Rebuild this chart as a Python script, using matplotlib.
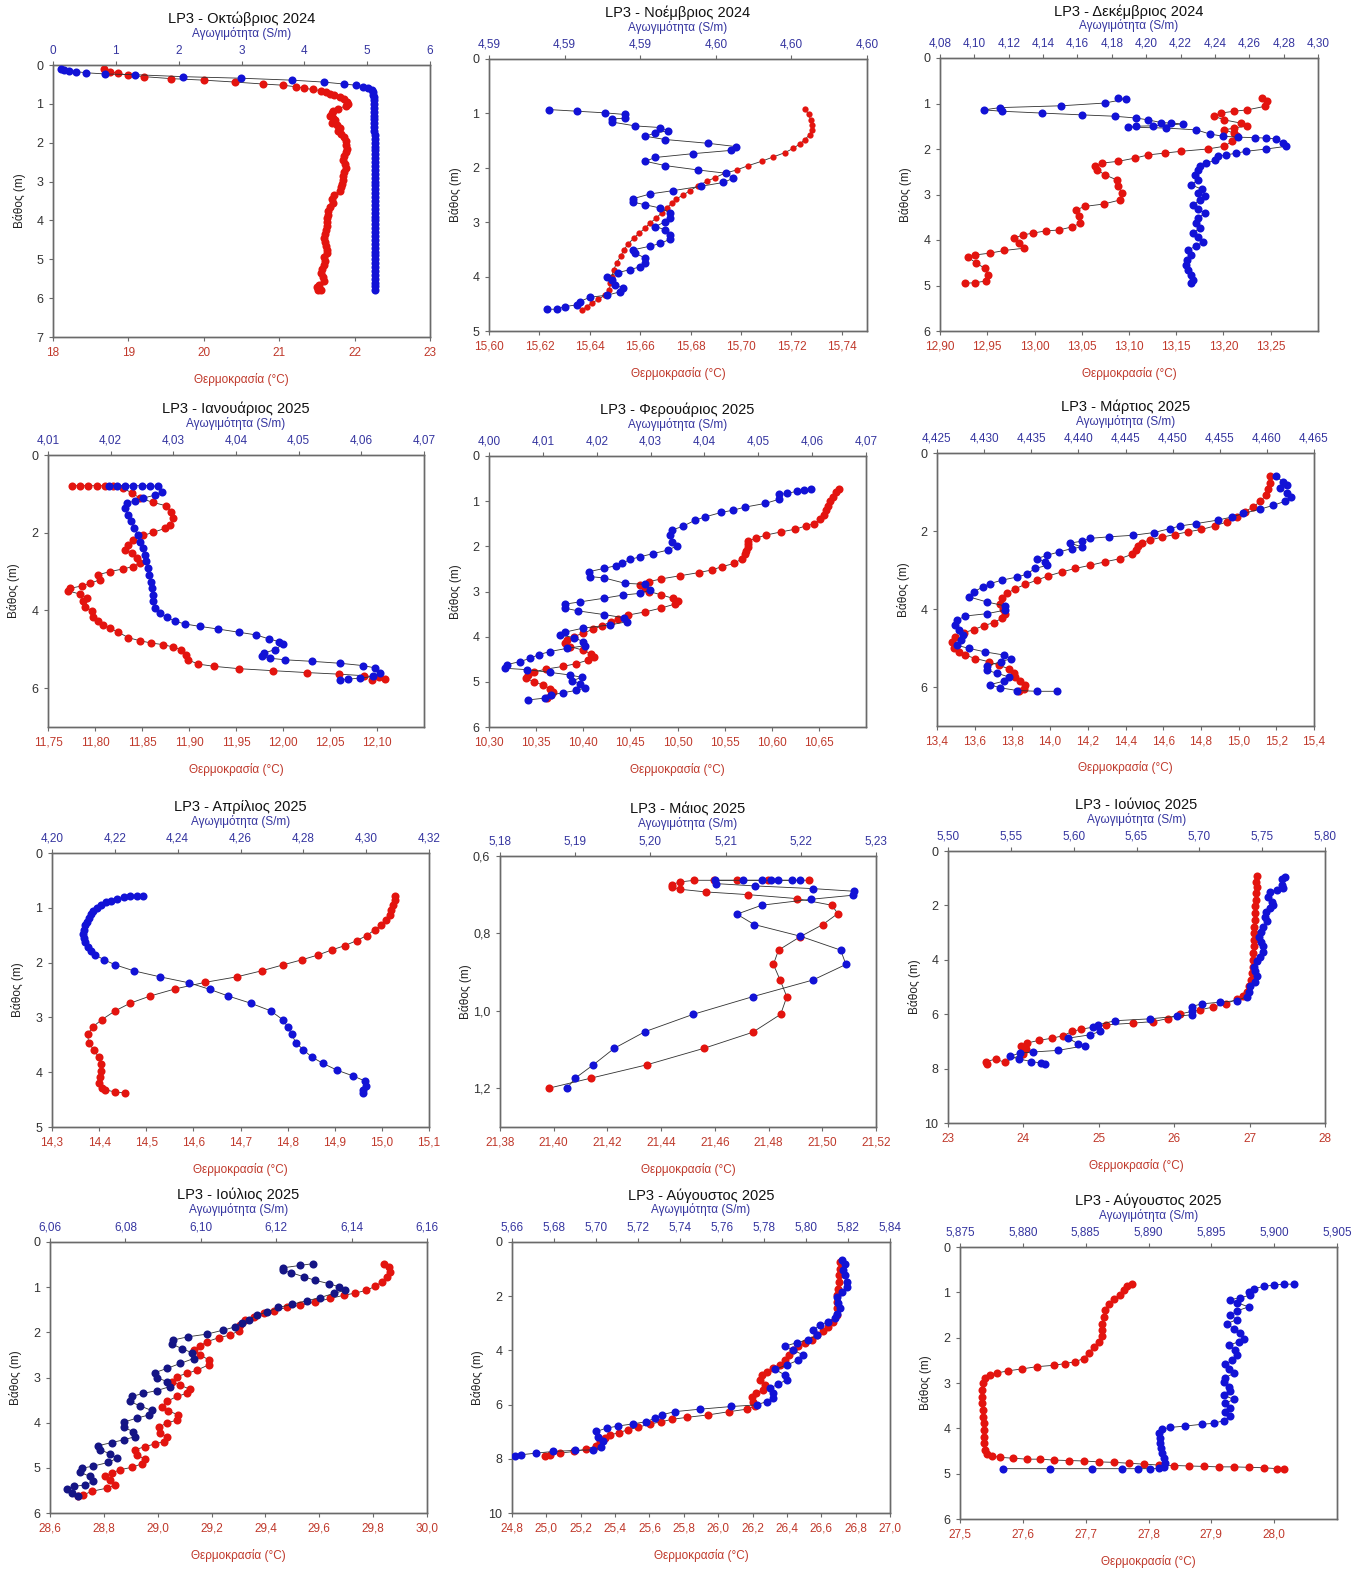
import matplotlib
matplotlib.use("Agg")
import matplotlib.pyplot as plt
import numpy as np

# (depth m, temperature C) and (depth m, conductivity S/m)
oct_temp = [(0.10,18.67),(0.17,18.76),(0.21,18.86),(0.26,18.99),(0.30,19.21),(0.35,19.56),(0.39,20.00),(0.44,20.42),
            (0.49,20.79),(0.52,21.05),(0.56,21.22),(0.60,21.33),(0.63,21.45),(0.66,21.55),(0.70,21.62),(0.74,21.68),
            (0.78,21.73),(0.83,21.80),(0.88,21.86),(0.94,21.90),(1.00,21.91),(1.06,21.88),(1.12,21.78),(1.18,21.72),
            (1.24,21.70),(1.30,21.68),(1.36,21.72),(1.42,21.74),(1.48,21.70),(1.55,21.76),(1.62,21.80),(1.70,21.78),
            (1.78,21.82),(1.86,21.86),(1.95,21.88),(2.05,21.89),(2.15,21.90),(2.25,21.88),(2.35,21.86),(2.45,21.85),
            (2.55,21.87),(2.65,21.88),(2.75,21.86),(2.85,21.85),(2.95,21.84),(3.05,21.83),(3.15,21.82),(3.25,21.80),
            (3.35,21.73),(3.45,21.70),(3.55,21.72),(3.65,21.67),(3.75,21.65),(3.85,21.65),(3.95,21.64),(4.05,21.63),
            (4.15,21.63),(4.25,21.62),(4.35,21.61),(4.45,21.60),(4.55,21.61),(4.65,21.62),(4.75,21.63),(4.85,21.63),
            (4.95,21.60),(5.05,21.61),(5.15,21.60),(5.25,21.57),(5.35,21.56),(5.45,21.58),(5.55,21.59),(5.65,21.53),
            (5.72,21.50),(5.78,21.52),(5.80,21.55)]
oct_cond = [(0.11,0.12),(0.13,0.17),(0.15,0.25),(0.17,0.36),(0.20,0.53),(0.23,0.82),(0.25,1.31),(0.30,2.07),
            (0.34,2.99),(0.39,3.80),(0.44,4.31),(0.49,4.63),(0.52,4.82),(0.56,4.94),(0.60,5.02),(0.65,5.07),
            (0.70,5.09),(0.76,5.10),(0.82,5.11),(0.90,5.11),(1.00,5.11),(1.10,5.11),(1.20,5.11),(1.30,5.11),
            (1.40,5.11),(1.50,5.11),(1.60,5.11),(1.70,5.11),(1.80,5.12),(1.90,5.12),(2.00,5.12),(2.10,5.12),
            (2.20,5.12),(2.30,5.12),(2.40,5.12),(2.50,5.12),(2.60,5.12),(2.70,5.12),(2.80,5.12),(2.90,5.12),
            (3.00,5.12),(3.10,5.12),(3.20,5.12),(3.30,5.12),(3.40,5.12),(3.50,5.12),(3.60,5.12),(3.70,5.12),
            (3.80,5.12),(3.90,5.12),(4.00,5.12),(4.10,5.12),(4.20,5.12),(4.30,5.12),(4.40,5.12),(4.50,5.12),
            (4.60,5.12),(4.70,5.12),(4.80,5.12),(4.90,5.12),(5.00,5.12),(5.10,5.12),(5.20,5.12),(5.30,5.12),
            (5.40,5.12),(5.50,5.12),(5.60,5.12),(5.70,5.12),(5.80,5.12)]

nov_temp = [(0.92,15.7254),(1.02,15.7268),(1.12,15.7277),(1.21,15.7281),(1.30,15.7281),(1.39,15.7272),(1.48,15.7254),
            (1.56,15.7234),(1.64,15.7208),(1.72,15.7175),(1.80,15.7128),(1.88,15.7082),(1.96,15.7029),(2.04,15.6983),
            (2.10,15.6936),(2.18,15.6897),(2.25,15.6864),(2.33,15.6830),(2.42,15.6797),(2.50,15.6771),(2.57,15.6744),
            (2.65,15.6725),(2.74,15.6705),(2.83,15.6685),(2.93,15.6662),(3.02,15.6638),(3.11,15.6619),(3.20,15.6596),
            (3.29,15.6575),(3.40,15.6552),(3.51,15.6535),(3.63,15.6522),(3.75,15.6506),(3.88,15.6495),(4.00,15.6487),
            (4.12,15.6482),(4.25,15.6477),(4.34,15.6460),(4.42,15.6433),(4.49,15.6407),(4.55,15.6387),(4.61,15.6371)]
nov_cond = [(0.93,4.5904),(0.96,4.5915),(0.99,4.5926),(1.02,4.5934),(1.09,4.5934),(1.10,4.5929),(1.16,4.5929),
            (1.23,4.5938),(1.26,4.5948),(1.32,4.5951),(1.36,4.5946),(1.42,4.5942),(1.48,4.5950),(1.55,4.5967),
            (1.61,4.5978),(1.68,4.5976),(1.74,4.5961),(1.81,4.5946),(1.88,4.5942),(1.96,4.5950),(2.04,4.5963),
            (2.10,4.5974),(2.19,4.5977),(2.27,4.5973),(2.34,4.5964),(2.42,4.5953),(2.48,4.5944),(2.57,4.5937),
            (2.63,4.5937),(2.68,4.5942),(2.74,4.5948),(2.83,4.5952),(2.93,4.5952),(2.99,4.5950),(3.08,4.5946),
            (3.14,4.5950),(3.23,4.5952),(3.31,4.5952),(3.39,4.5948),(3.44,4.5944),(3.51,4.5937),(3.57,4.5938),
            (3.66,4.5942),(3.75,4.5942),(3.82,4.5940),(3.87,4.5936),(3.93,4.5931),(4.00,4.5927),(4.06,4.5929),
            (4.15,4.5930),(4.21,4.5933),(4.28,4.5932),(4.34,4.5927),(4.38,4.5920),(4.46,4.5916),(4.52,4.5915),
            (4.55,4.5910),(4.60,4.5907),(4.60,4.5903)]

dec_temp = [(0.87,13.2409),(0.95,13.2462),(1.06,13.2444),(1.14,13.2252),(1.17,13.2112),(1.21,13.1972),(1.28,13.1902),
            (1.36,13.2007),(1.43,13.2182),(1.49,13.2252),(1.54,13.2112),(1.58,13.2007),(1.65,13.2112),(1.72,13.2147),
            (1.83,13.2094),(1.94,13.2007),(2.00,13.1832),(2.05,13.1552),(2.09,13.1378),(2.13,13.1203),(2.20,13.1063),
            (2.27,13.0888),(2.31,13.0713),(2.38,13.0643),(2.46,13.0661),(2.57,13.0748),(2.68,13.0871),(2.82,13.0888),
            (2.97,13.0923),(3.12,13.0906),(3.21,13.0731),(3.26,13.0538),(3.34,13.0434),(3.48,13.0469),(3.63,13.0486),
            (3.71,13.0399),(3.78,13.0259),(3.80,13.0119),(3.85,12.9979),(3.89,12.9874),(3.96,12.9787),(4.07,12.9839),
            (4.18,12.9892),(4.23,12.9682),(4.29,12.9524),(4.33,12.9367),(4.38,12.9297),(4.51,12.9385),(4.62,12.9472),
            (4.77,12.9507),(4.90,12.9490),(4.94,12.9367),(4.95,12.9262)]
dec_cond = [(0.87,4.1837),(0.90,4.1885),(0.99,4.1759),(1.05,4.1507),(1.09,4.1149),(1.14,4.1056),(1.17,4.1159),
            (1.21,4.1391),(1.25,4.1624),(1.28,4.1817),(1.32,4.1943),(1.36,4.2011),(1.42,4.2089),(1.43,4.2147),
            (1.45,4.2215),(1.49,4.2040),(1.50,4.1943),(1.52,4.1895),(1.54,4.2118),(1.58,4.2292),(1.67,4.2370),
            (1.72,4.2447),(1.74,4.2535),(1.75,4.2632),(1.76,4.2700),(1.78,4.2758),(1.87,4.2796),(1.94,4.2816),
            (2.00,4.2700),(2.05,4.2583),(2.09,4.2525),(2.13,4.2467),(2.16,4.2418),(2.25,4.2399),(2.31,4.2350),
            (2.38,4.2312),(2.46,4.2302),(2.57,4.2283),(2.68,4.2302),(2.79,4.2263),(2.88,4.2322),(2.97,4.2302),
            (3.04,4.2341),(3.12,4.2312),(3.23,4.2273),(3.32,4.2302),(3.41,4.2341),(3.52,4.2302),(3.63,4.2292),
            (3.74,4.2312),(3.84,4.2273),(3.93,4.2302),(4.04,4.2331),(4.13,4.2292),(4.22,4.2244),(4.33,4.2263),
            (4.44,4.2235),(4.55,4.2231),(4.66,4.2241),(4.77,4.2263),(4.88,4.2273),(4.95,4.2263)]

jan_temp = [(0.79,11.7754),(0.79,11.7842),(0.79,11.7930),(0.79,11.8019),(0.79,11.8107),(0.81,11.8195),(0.86,11.8301),
            (0.97,11.8389),(1.11,11.8477),(1.22,11.8619),(1.31,11.8760),(1.46,11.8813),(1.63,11.8830),(1.80,11.8795),
            (1.89,11.8742),(1.99,11.8619),(2.07,11.8513),(2.19,11.8407),(2.31,11.8354),(2.44,11.8319),(2.53,11.8389),
            (2.66,11.8442),(2.78,11.8477),(2.87,11.8407),(2.93,11.8301),(3.00,11.8160),(3.08,11.8036),(3.21,11.8054),
            (3.30,11.7948),(3.37,11.7860),(3.43,11.7736),(3.50,11.7718),(3.58,11.7842),(3.67,11.7913),(3.77,11.7877),
            (3.90,11.7895),(4.01,11.7966),(4.16,11.7983),(4.28,11.8036),(4.37,11.8089),(4.46,11.8160),(4.56,11.8248),
            (4.70,11.8354),(4.78,11.8477),(4.84,11.8601),(4.88,11.8724),(4.94,11.8830),(5.01,11.8918),(5.14,11.8971),
            (5.27,11.8989),(5.38,11.9095),(5.44,11.9271),(5.50,11.9536),(5.55,11.9889),(5.60,12.0259),(5.64,12.0595),
            (5.68,12.0859),(5.72,12.1018),(5.76,12.1089),(5.78,12.0948)]
jan_cond = [(0.79,4.0197),(0.79,4.0210),(0.79,4.0223),(0.79,4.0236),(0.79,4.0250),(0.79,4.0263),(0.81,4.0276),
            (0.94,4.0282),(1.03,4.0271),(1.11,4.0252),(1.18,4.0239),(1.24,4.0226),(1.37,4.0223),(1.54,4.0227),
            (1.71,4.0232),(1.89,4.0238),(2.06,4.0243),(2.23,4.0247),(2.40,4.0251),(2.57,4.0254),(2.74,4.0257),
            (2.91,4.0259),(3.08,4.0261),(3.26,4.0264),(3.43,4.0266),(3.60,4.0267),(3.77,4.0268),(3.94,4.0271),
            (4.07,4.0278),(4.18,4.0290),(4.28,4.0303),(4.35,4.0319),(4.41,4.0342),(4.48,4.0372),(4.56,4.0404),
            (4.63,4.0432),(4.73,4.0452),(4.80,4.0468),(4.87,4.0475),(5.01,4.0462),(5.10,4.0444),(5.18,4.0441),
            (5.23,4.0454),(5.27,4.0478),(5.31,4.0521),(5.36,4.0566),(5.42,4.0603),(5.48,4.0622),(5.61,4.0629),
            (5.70,4.0619),(5.74,4.0598),(5.77,4.0579),(5.78,4.0566)]

feb_temp = [(0.74,10.671),(0.80,10.668),(0.90,10.665),(1.00,10.662),(1.10,10.660),(1.20,10.658),(1.30,10.655),
            (1.40,10.651),(1.50,10.645),(1.55,10.636),(1.62,10.625),(1.68,10.610),(1.75,10.594),(1.82,10.583),
            (1.88,10.575),(1.95,10.5745),(2.02,10.575),(2.10,10.573),(2.18,10.572),(2.28,10.568),(2.38,10.560),
            (2.45,10.547),(2.52,10.537),(2.58,10.523),(2.65,10.503),(2.72,10.483),(2.78,10.470),(2.85,10.460),
            (2.93,10.465),(3.00,10.470),(3.07,10.482),(3.15,10.495),(3.22,10.500),(3.28,10.497),(3.37,10.482),
            (3.45,10.466),(3.52,10.448),(3.60,10.437),(3.67,10.429),(3.76,10.420),(3.84,10.410),(3.92,10.400),
            (4.00,10.390),(4.08,10.383),(4.15,10.381),(4.22,10.386),(4.30,10.400),(4.38,10.408),(4.45,10.411),
            (4.52,10.405),(4.60,10.392),(4.66,10.378),(4.72,10.360),(4.78,10.348),(4.84,10.341),(4.92,10.339),
            (5.00,10.348),(5.07,10.357),(5.15,10.365),(5.22,10.368),(5.30,10.366),(5.36,10.362)]
feb_cond = [(0.74,4.0597),(0.76,4.0584),(0.78,4.0572),(0.83,4.0553),(0.85,4.0538),(0.96,4.0538),(1.05,4.0513),
            (1.13,4.0476),(1.20,4.0453),(1.25,4.0431),(1.35,4.0401),(1.42,4.0383),(1.55,4.0361),(1.64,4.0340),
            (1.75,4.0336),(1.90,4.0340),(1.99,4.0349),(2.08,4.0333),(2.16,4.0305),(2.23,4.0281),(2.29,4.0262),
            (2.38,4.0247),(2.43,4.0235),(2.49,4.0213),(2.56,4.0186),(2.67,4.0188),(2.70,4.0214),(2.82,4.0253),
            (2.84,4.0290),(2.97,4.0299),(3.04,4.0281),(3.08,4.0248),(3.15,4.0213),(3.23,4.0169),(3.28,4.0141),
            (3.37,4.0141),(3.43,4.0166),(3.51,4.0213),(3.58,4.0250),(3.67,4.0256),(3.74,4.0225),(3.81,4.0175),
            (3.90,4.0141),(3.96,4.0132),(4.02,4.0157),(4.11,4.0175),(4.20,4.0178),(4.26,4.0144),(4.33,4.0113),
            (4.40,4.0092),(4.48,4.0076),(4.55,4.0058),(4.62,4.0033),(4.70,4.0030),(4.73,4.0070),(4.79,4.0113),
            (4.85,4.0151),(4.90,4.0172),(4.98,4.0154),(5.05,4.0169),(5.14,4.0178),(5.19,4.0162),(5.24,4.0138),
            (5.29,4.0116),(5.36,4.0104),(5.40,4.0073)]

mar_temp = [(0.60,15.165),(0.76,15.165),(0.93,15.158),(1.08,15.144),(1.24,15.116),(1.38,15.077),(1.51,15.033),
            (1.64,14.989),(1.77,14.936),(1.87,14.874),(1.96,14.803),(2.02,14.733),(2.09,14.662),(2.16,14.592),
            (2.23,14.530),(2.30,14.486),(2.38,14.468),(2.49,14.456),(2.60,14.433),(2.71,14.371),(2.79,14.291),
            (2.88,14.212),(2.96,14.133),(3.05,14.062),(3.15,13.991),(3.26,13.930),(3.37,13.868),(3.48,13.815),
            (3.60,13.771),(3.73,13.744),(3.86,13.735),(3.99,13.749),(4.12,13.762),(4.24,13.744),(4.35,13.700),
            (4.43,13.647),(4.53,13.594),(4.61,13.541),(4.71,13.497),(4.84,13.479),(4.99,13.488),(5.10,13.515),
            (5.18,13.550),(5.27,13.603),(5.35,13.674),(5.44,13.727),(5.53,13.780),(5.63,13.806),(5.74,13.815),
            (5.85,13.842),(5.95,13.868),(6.05,13.859),(6.11,13.833)]
mar_cond = [(0.60,4.4610),(0.74,4.4617),(0.83,4.4621),(0.91,4.4614),(1.02,4.4621),(1.13,4.4626),(1.24,4.4619),
            (1.34,4.4607),(1.44,4.4593),(1.55,4.4575),(1.64,4.4563),(1.72,4.4548),(1.81,4.4525),(1.87,4.4508),
            (1.94,4.4497),(2.04,4.4480),(2.11,4.4458),(2.15,4.4432),(2.19,4.4412),(2.26,4.4404),(2.31,4.4391),
            (2.41,4.4404),(2.45,4.4393),(2.54,4.4379),(2.62,4.4367),(2.71,4.4356),(2.79,4.4365),(2.88,4.4367),
            (2.96,4.4354),(3.11,4.4345),(3.18,4.4335),(3.26,4.4319),(3.35,4.4306),(3.43,4.4299),(3.56,4.4289),
            (3.69,4.4284),(3.82,4.4303),(3.92,4.4322),(4.03,4.4322),(4.12,4.4303),(4.18,4.4280),(4.29,4.4271),
            (4.42,4.4269),(4.54,4.4273),(4.67,4.4278),(4.80,4.4275),(4.93,4.4271),(5.01,4.4284),(5.10,4.4301),
            (5.18,4.4321),(5.27,4.4329),(5.35,4.4318),(5.46,4.4303),(5.57,4.4303),(5.65,4.4314),(5.74,4.4326),
            (5.85,4.4321),(5.94,4.4306),(6.02,4.4317),(6.09,4.4335),(6.11,4.4356),(6.11,4.4377)]

apr_temp = [(0.78,15.0274),(0.85,15.0274),(0.95,15.0239),(1.04,15.0203),(1.13,15.0168),(1.22,15.0097),(1.31,14.9992),
            (1.40,14.9850),(1.51,14.9674),(1.60,14.9462),(1.69,14.9215),(1.77,14.8932),(1.86,14.8650),(1.95,14.8297),
            (2.04,14.7908),(2.15,14.7449),(2.26,14.6920),(2.36,14.6249),(2.48,14.5613),(2.61,14.5083),(2.74,14.4660),
            (2.88,14.4342),(3.04,14.4059),(3.17,14.3869),(3.31,14.3756),(3.46,14.3777),(3.59,14.3883),(3.72,14.3989),
            (3.85,14.4045),(3.98,14.4045),(4.09,14.4010),(4.20,14.3989),(4.29,14.4059),(4.32,14.4130),(4.36,14.4328),
            (4.38,14.4554)]
apr_cond = [(0.78,4.2289),(0.78,4.2270),(0.79,4.2249),(0.81,4.2228),(0.84,4.2207),(0.87,4.2188),(0.90,4.2171),
            (0.95,4.2156),(1.00,4.2143),(1.05,4.2132),(1.11,4.2124),(1.18,4.2117),(1.25,4.2111),(1.32,4.2106),
            (1.40,4.2102),(1.48,4.2099),(1.55,4.2101),(1.63,4.2106),(1.71,4.2113),(1.78,4.2124),(1.86,4.2138),
            (1.95,4.2166),(2.04,4.2201),(2.15,4.2260),(2.26,4.2344),(2.37,4.2437),(2.49,4.2503),(2.61,4.2561),
            (2.74,4.2632),(2.88,4.2696),(3.04,4.2734),(3.17,4.2750),(3.31,4.2763),(3.46,4.2776),(3.59,4.2800),
            (3.72,4.2826),(3.84,4.2863),(3.96,4.2906),(4.07,4.2959),(4.16,4.2996),(4.26,4.3001),(4.33,4.2991),
            (4.38,4.2989)]

may_temp = [(0.6627,21.4952),(0.6627,21.4799),(0.6627,21.4681),(0.6627,21.4595),(0.6627,21.4524),(0.6670,21.4470),
            (0.6739,21.4439),(0.6799,21.4439),(0.6859,21.4470),(0.6928,21.4566),(0.6997,21.4722),(0.7100,21.4905),
            (0.7271,21.5035),(0.7486,21.5058),(0.7770,21.5002),(0.8088,21.4917),(0.8431,21.4837),(0.8801,21.4818),
            (0.9204,21.4843),(0.9634,21.4868),(1.0089,21.4845),(1.0553,21.4741),(1.0966,21.4560),(1.1395,21.4346),
            (1.1739,21.4138),(1.1997,21.3982)]
may_cond = [(0.6627,5.2199),(0.6627,5.2188),(0.6627,5.2170),(0.6627,5.2161),(0.6627,5.2148),(0.6627,5.2123),
            (0.6627,5.2086),(0.6713,5.2087),(0.6773,5.2139),(0.6842,5.2216),(0.6911,5.2271),(0.7014,5.2269),
            (0.7117,5.2214),(0.7271,5.2148),(0.7503,5.2115),(0.7770,5.2138),(0.8070,5.2199),(0.8431,5.2253),
            (0.8801,5.2260),(0.9204,5.2216),(0.9634,5.2136),(1.0089,5.2057),(1.0536,5.1993),(1.0966,5.1952),
            (1.1395,5.1924),(1.1739,5.1900),(1.1997,5.1889)]

jun_temp = [(0.92,27.093),(1.13,27.084),(1.31,27.093),(1.55,27.084),(1.80,27.080),(2.04,27.075),(2.29,27.071),
            (2.53,27.066),(2.78,27.062),(3.03,27.058),(3.27,27.058),(3.51,27.053),(3.76,27.049),(4.00,27.044),
            (4.25,27.040),(4.49,27.031),(4.74,27.018),(4.98,26.996),(5.17,26.960),(5.32,26.907),(5.45,26.827),
            (5.62,26.686),(5.74,26.509),(5.84,26.341),(5.99,26.075),(6.16,25.920),(6.27,25.721),(6.33,25.447),
            (6.39,25.102),(6.55,24.770),(6.63,24.650),(6.79,24.527),(6.88,24.385),(6.96,24.208),(7.06,24.049),
            (7.16,23.973),(7.28,24.031),(7.45,23.996),(7.77,23.752),(7.65,23.633),(7.74,23.509),(7.82,23.518)]
jun_cond = [(0.94,5.7682),(1.04,5.7655),(1.25,5.7655),(1.37,5.7669),(1.43,5.7615),(1.49,5.7562),(1.68,5.7549),
            (1.86,5.7576),(1.98,5.7584),(2.11,5.7562),(2.23,5.7530),(2.41,5.7522),(2.59,5.7536),(2.78,5.7509),
            (2.96,5.7488),(3.15,5.7477),(3.33,5.7490),(3.51,5.7504),(3.70,5.7504),(3.88,5.7483),(4.06,5.7456),
            (4.25,5.7435),(4.43,5.7443),(4.61,5.7461),(4.80,5.7443),(4.98,5.7403),(5.17,5.7398),(5.35,5.7382),
            (5.50,5.7297),(5.56,5.7164),(5.62,5.7018),(5.72,5.6938),(5.88,5.6938),(6.02,5.6938),(6.08,5.6819),
            (6.17,5.6606),(6.24,5.6328),(6.39,5.6195),(6.48,5.6155),(6.63,5.6213),(6.76,5.6128),(6.88,5.5956),
            (7.09,5.6036),(7.16,5.6089),(7.33,5.5876),(7.39,5.5677),(7.43,5.5571),(7.55,5.5491),(7.65,5.5566),
            (7.74,5.5664),(7.80,5.5744),(7.82,5.5770)]

jul_temp = [(0.48,29.839),(0.55,29.858),(0.66,29.862),(0.77,29.852),(0.88,29.833),(0.98,29.808),(1.07,29.775),
            (1.13,29.734),(1.18,29.690),(1.25,29.641),(1.33,29.585),(1.40,29.529),(1.45,29.480),(1.52,29.430),
            (1.58,29.393),(1.66,29.356),(1.73,29.325),(1.84,29.306),(1.97,29.300),(2.06,29.269),(2.12,29.226),
            (2.21,29.182),(2.30,29.158),(2.39,29.133),(2.50,29.158),(2.61,29.189),(2.72,29.189),(2.84,29.145),
            (2.91,29.108),(2.98,29.071),(3.09,29.052),(3.17,29.083),(3.26,29.120),(3.35,29.108),(3.42,29.071),
            (3.53,29.034),(3.65,29.015),(3.74,29.040),(3.83,29.077),(3.94,29.071),(4.01,29.034),(4.10,29.003),
            (4.22,29.009),(4.32,29.034),(4.42,29.022),(4.47,28.990),(4.53,28.953),(4.60,28.916),(4.71,28.922),
            (4.81,28.953),(4.91,28.941),(4.99,28.904),(5.04,28.860),(5.12,28.829),(5.18,28.804),(5.27,28.823),
            (5.38,28.842),(5.45,28.811),(5.52,28.755),(5.60,28.724),(5.63,28.705)]
jul_cond = [(0.48,6.1297),(0.52,6.1262),(0.57,6.1219),(0.63,6.1217),(0.68,6.1240),(0.77,6.1273),(0.85,6.1304),
            (0.92,6.1339),(0.99,6.1366),(1.07,6.1383),(1.14,6.1352),(1.23,6.1317),(1.30,6.1281),(1.38,6.1242),
            (1.45,6.1206),(1.55,6.1175),(1.62,6.1149),(1.72,6.1127),(1.79,6.1109),(1.88,6.1091),(1.95,6.1060),
            (2.04,6.1016),(2.10,6.0965),(2.17,6.0927),(2.26,6.0923),(2.36,6.0950),(2.45,6.0976),(2.58,6.0981),
            (2.69,6.0945),(2.80,6.0910),(2.89,6.0879),(3.00,6.0883),(3.09,6.0910),(3.20,6.0919),(3.29,6.0883),
            (3.35,6.0848),(3.42,6.0817),(3.53,6.0812),(3.63,6.0839),(3.73,6.0870),(3.83,6.0862),(3.90,6.0830),
            (3.99,6.0795),(4.10,6.0795),(4.20,6.0821),(4.31,6.0826),(4.38,6.0795),(4.44,6.0764),(4.51,6.0728),
            (4.60,6.0733),(4.69,6.0759),(4.79,6.0777),(4.88,6.0755),(4.96,6.0715),(5.01,6.0684),(5.10,6.0680),
            (5.19,6.0706),(5.30,6.0715),(5.38,6.0693),(5.41,6.0664),(5.47,6.0644),(5.56,6.0658),(5.62,6.0675)]

aug_temp = [(0.74,26.709),(0.98,26.709),(1.23,26.705),(1.47,26.705),(1.72,26.699),(1.96,26.689),(2.21,26.689),
            (2.45,26.693),(2.70,26.689),(2.94,26.670),(3.13,26.641),(3.28,26.608),(3.44,26.573),(3.62,26.544),
            (3.74,26.505),(3.84,26.466),(3.99,26.437),(4.17,26.414),(4.36,26.388),(4.54,26.359),(4.66,26.320),
            (4.79,26.282),(4.91,26.253),(5.09,26.243),(5.28,26.272),(5.46,26.262),(5.58,26.223),(5.71,26.194),
            (5.89,26.204),(6.05,26.214),(6.17,26.165),(6.26,26.064),(6.38,25.942),(6.47,25.819),(6.54,25.734),
            (6.63,25.670),(6.72,25.602),(6.83,25.534),(6.93,25.476),(7.03,25.423),(7.12,25.373),(7.24,25.340),
            (7.36,25.311),(7.52,25.291),(7.64,25.233),(7.73,25.161),(7.79,25.078),(7.85,25.019),(7.89,24.990)]
aug_cond = [(0.67,5.8170),(0.80,5.8185),(1.02,5.8177),(1.23,5.8185),(1.47,5.8193),(1.66,5.8193),(1.84,5.8170),
            (2.02,5.8146),(2.25,5.8154),(2.45,5.8162),(2.64,5.8146),(2.82,5.8138),(2.94,5.8106),(3.07,5.8066),
            (3.25,5.8035),(3.44,5.8051),(3.60,5.8011),(3.72,5.7955),(3.84,5.7900),(3.99,5.7939),(4.17,5.7987),
            (4.36,5.7963),(4.54,5.7908),(4.70,5.7852),(4.91,5.7900),(5.09,5.7908),(5.24,5.7868),(5.40,5.7828),
            (5.58,5.7844),(5.77,5.7844),(5.89,5.7812),(6.01,5.7765),(6.07,5.7645),(6.17,5.7494),(6.26,5.7375),
            (6.38,5.7312),(6.50,5.7280),(6.63,5.7240),(6.71,5.7177),(6.79,5.7105),(6.87,5.7050),(6.99,5.7002),
            (7.18,5.7010),(7.36,5.7034),(7.55,5.7026),(7.67,5.6986),(7.69,5.6899),(7.73,5.6795),(7.79,5.6716),
            (7.85,5.6644),(7.91,5.6613)]

aug2_temp = [(0.82,27.7739),(0.87,27.7660),(0.95,27.7606),(1.06,27.7553),(1.14,27.7447),(1.25,27.7367),(1.40,27.7314),
             (1.54,27.7287),(1.69,27.7261),(1.84,27.7261),(1.97,27.7261),(2.09,27.7207),(2.20,27.7128),(2.33,27.7048),
             (2.46,27.6968),(2.53,27.6835),(2.57,27.6676),(2.61,27.6489),(2.64,27.6223),(2.69,27.5984),(2.73,27.5771),
             (2.78,27.5585),(2.83,27.5479),(2.90,27.5399),(3.01,27.5362),(3.16,27.5351),(3.30,27.5346),(3.45,27.5356),
             (3.60,27.5362),(3.74,27.5372),(3.89,27.5378),(4.04,27.5383),(4.19,27.5388),(4.33,27.5388),(4.48,27.5399),
             (4.57,27.5426),(4.61,27.5505),(4.64,27.5638),(4.66,27.5851),(4.68,27.6064),(4.68,27.6277),(4.70,27.6489),
             (4.71,27.6729),(4.72,27.6968),(4.74,27.7207),(4.75,27.7447),(4.77,27.7686),(4.79,27.7926),(4.81,27.8165),
             (4.82,27.8404),(4.83,27.8644),(4.84,27.8883),(4.85,27.9122),(4.85,27.9362),(4.86,27.9601),(4.87,27.9840),
             (4.89,28.0053),(4.90,28.0160)]
aug2_cond = [(0.82,5.90155),(0.82,5.90076),(0.84,5.89996),(0.87,5.89916),(0.92,5.89837),(0.99,5.89797),(1.06,5.89810),
             (1.12,5.89730),(1.16,5.89651),(1.23,5.89704),(1.32,5.89797),(1.41,5.89704),(1.51,5.89651),(1.60,5.89704),
             (1.69,5.89624),(1.80,5.89678),(1.89,5.89730),(2.02,5.89757),(2.09,5.89717),(2.17,5.89638),(2.28,5.89691),
             (2.39,5.89704),(2.50,5.89664),(2.59,5.89611),(2.69,5.89638),(2.79,5.89678),(2.88,5.89611),(2.97,5.89598),
             (3.08,5.89638),(3.18,5.89651),(3.27,5.89598),(3.36,5.89678),(3.45,5.89611),(3.55,5.89651),(3.63,5.89611),
             (3.73,5.89651),(3.83,5.89598),(3.89,5.89518),(3.91,5.89425),(3.95,5.89292),(3.98,5.89173),(4.02,5.89106),
             (4.11,5.89080),(4.22,5.89088),(4.33,5.89093),(4.44,5.89098),(4.55,5.89106),(4.66,5.89120),(4.77,5.89133),
             (4.86,5.89125),(4.88,5.89080),(4.89,5.89013),(4.89,5.88920),(4.89,5.88788),(4.89,5.88549),(4.89,5.88217),
             (4.89,5.87845)]

titles = ["LP3 - Οκτώβριος 2024", "LP3 - Νοέμβριος 2024", "LP3 - Δεκέμβριος 2024",
          "LP3 - Ιανουάριος 2025", "LP3 - Φερουάριος 2025", "LP3 - Μάρτιος 2025",
          "LP3 - Απρίλιος 2025", "LP3 - Μάιος 2025", "LP3 - Ιούνιος 2025",
          "LP3 - Ιούλιος 2025", "LP3 - Αύγουστος 2025", "LP3 - Αύγουστος 2025"]
temps = [oct_temp, nov_temp, dec_temp, jan_temp, feb_temp, mar_temp,
         apr_temp, may_temp, jun_temp, jul_temp, aug_temp, aug2_temp]
conds = [oct_cond, nov_cond, dec_cond, jan_cond, feb_cond, mar_cond,
         apr_cond, may_cond, jun_cond, jul_cond, aug_cond, aug2_cond]

# axis setup: (lim low, lim high, first tick, last tick, step, decimals)
t_axes = [(18, 23, 18, 23, 1, 0), (15.60, 15.75, 15.60, 15.74, .02, 2), (12.90, 13.30, 12.90, 13.25, .05, 2),
          (11.75, 12.15, 11.75, 12.10, .05, 2), (10.30, 10.70, 10.30, 10.65, .05, 2), (13.4, 15.4, 13.4, 15.4, .2, 1),
          (14.3, 15.1, 14.3, 15.1, .1, 1), (21.38, 21.52, 21.38, 21.52, .02, 2), (23, 28, 23, 28, 1, 0),
          (28.6, 30.0, 28.6, 30.0, .2, 1), (24.8, 27.0, 24.8, 27.0, .2, 1), (27.5, 28.1, 27.5, 28.0, .1, 1)]
c_axes = [(0, 6, 0, 6, 1, 0), (4.588, 4.603, 4.588, 4.603, .003, 2), (4.08, 4.30, 4.08, 4.30, .02, 2),
          (4.01, 4.07, 4.01, 4.07, .01, 2), (4.00, 4.07, 4.00, 4.07, .01, 2), (4.425, 4.465, 4.425, 4.465, .005, 3),
          (4.20, 4.32, 4.20, 4.32, .02, 2), (5.18, 5.23, 5.18, 5.23, .01, 2), (5.50, 5.80, 5.50, 5.80, .05, 2),
          (6.06, 6.16, 6.06, 6.16, .02, 2), (5.66, 5.84, 5.66, 5.84, .02, 2), (5.875, 5.905, 5.875, 5.905, .005, 3)]
d_axes = [(0, 7, 0, 7, 1, 0), (0, 5, 0, 5, 1, 0), (0, 6, 0, 6, 1, 0),
          (0, 7, 0, 6, 2, 0), (0, 6, 0, 6, 1, 0), (0, 7, 0, 6, 2, 0),
          (0, 5, 0, 5, 1, 0), (0.6, 1.3, 0.6, 1.2, .2, 1), (0, 10, 0, 10, 2, 0),
          (0, 6, 0, 6, 1, 0), (0, 10, 0, 10, 2, 0), (0, 6, 0, 6, 1, 0)]

# axes boxes in pixels: left, top, right, bottom
boxes = [(53, 65, 430, 337), (489, 59, 867, 331), (940, 58, 1318, 331),
         (48, 455, 424, 727), (489, 456, 866, 727), (937, 453, 1314, 726),
         (52, 853, 429, 1127), (500, 856, 876, 1127), (948, 851, 1325, 1123),
         (50, 1242, 427, 1513), (512, 1242, 890, 1513), (960, 1247, 1337, 1519)]

W, H = 1370, 1571
RED = "#e3140f"
BLUE = "#1212d6"
NAVY = "#151585"
RED_TXT = "#c0392b"
BLUE_TXT = "#3535a0"

plt.rcParams["font.family"] = ["Liberation Sans", "DejaVu Sans"]
fig = plt.figure(figsize=(W / 100, H / 100), dpi=100)


def ticks(a, b, step):
    n = int(round((b - a) / step))
    return [round(a + i * step, 6) for i in range(n + 1)]


def lab(v, dec):
    return f"{v:.{dec}f}".replace(".", ",")


for i in range(12):
    l, t, r, b = boxes[i]
    ax = fig.add_axes([l / W, 1 - b / H, (r - l) / W, (b - t) / H])
    ax2 = ax.twiny()

    T = np.array(temps[i])
    C = np.array(conds[i])
    ms_r = 4.5 if i == 1 else 5.8
    ax.plot(T[:, 1], T[:, 0], "-", color="#303030", lw=0.6, zorder=2)
    ax.plot(T[:, 1], T[:, 0], "o", color=RED, ms=ms_r, mec="none", zorder=3)
    bc = NAVY if i == 9 else BLUE
    ax2.plot(C[:, 1], C[:, 0], "-", color="#303030", lw=0.6, zorder=2)
    ax2.plot(C[:, 1], C[:, 0], "o", color=bc, ms=5.8, mec="none", zorder=3)

    lo, hi, a, bb, st, dc = t_axes[i]
    ax.set_xlim(lo, hi)
    tv = ticks(a, bb, st)
    ax.set_xticks(tv)
    ax.set_xticklabels([lab(v, dc) for v in tv])

    lo, hi, a, bb, st, dc = c_axes[i]
    ax2.set_xlim(lo, hi)
    cv = ticks(a, bb, st)
    ax2.set_xticks(cv)
    ax2.set_xticklabels([lab(v, dc) for v in cv])

    lo, hi, a, bb, st, dc = d_axes[i]
    ax.set_ylim(hi, lo)
    dv = ticks(a, bb, st)
    ax.set_yticks(dv)
    ax.set_yticklabels([lab(v, dc) for v in dv])

    for a_ in (ax, ax2):
        for s in a_.spines.values():
            s.set_color("#6a6a6a")
            s.set_linewidth(1.0)
    ax.tick_params(axis="x", colors="#6a6a6a", labelcolor=RED_TXT, labelsize=8.5, length=3, pad=4)
    ax.tick_params(axis="y", colors="#6a6a6a", labelcolor="#333333", labelsize=9, length=3, pad=4)
    ax2.tick_params(axis="x", colors="#6a6a6a", labelcolor=BLUE_TXT, labelsize=8.5, length=3, pad=3)

    cx = (l + r) / 2 / W
    fig.text(cx, 1 - (t - 46) / H, titles[i], ha="center", va="center", fontsize=10.5, color="#111111")
    fig.text(cx, 1 - (t - 32) / H, "Αγωγιμότητα (S/m)", ha="center", va="center", fontsize=8.5, color=BLUE_TXT)
    fig.text(cx, 1 - (b + 42) / H, "Θερμοκρασία (°C)", ha="center", va="center", fontsize=8.5, color=RED_TXT)
    fig.text((l - 34) / W, 1 - (t + b) / 2 / H, "Βάθος (m)", ha="center", va="center",
             rotation=90, fontsize=8.5, color="#222222")

fig.savefig("out.png", dpi=100, facecolor="white")
